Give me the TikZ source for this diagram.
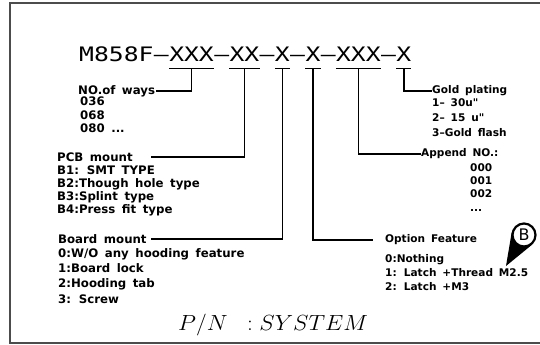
\documentclass[tikz,border=0pt]{standalone}
\usepackage{fontspec}
\usepackage{tikz}
\usetikzlibrary{positioning,backgrounds}
\newfontfamily\pnfont[FakeStretch=1.24]{DejaVu Sans Mono}
\newfontfamily\lblfont[WordSpace=1.6]{DejaVu Sans}
\newcommand\fsz{11}

\begin{document}
\begin{tikzpicture}[x=1bp,y=-1bp,
  seg/.style={font=\pnfont\fontsize{20}{24}\selectfont,inner sep=0pt},
  head/.style={font=\lblfont\bfseries\fontsize{\fsz}{13}\selectfont,inner sep=0pt,anchor=west},
  itm/.style={font=\lblfont\bfseries\fontsize{\fsz}{#1}\selectfont,inner sep=0pt,anchor=north west,align=left},
  itm/.default=13.2,
  link/.style={line width=1.5bp},
  bar/.style={line width=1.8bp}]
  \useasboundingbox (0,0) rectangle (540,344);
  % 外框
  \draw[line width=1.5bp,black!70] (540,3) -- (10,3) -- (10,343) -- (540,343);
  % 料号
  \node[seg,anchor=base west] (pn) at (79,61) {M858F};
  \foreach \nm/\txt [remember=\nm as \prev (initially pn)] in
     {d1/—,xways/XXX,d2/—,xpcb/XX,d3/—,xboard/X,d4/—,xopt/X,d5/—,xapp/XXX,d6/—,xgold/X}
     \node[seg,base right=0pt of \prev] (\nm) {\txt};
  \foreach \g in {xways,xpcb,xboard,xopt,xapp,xgold}
     \draw[bar] ([yshift=-7.5bp]\g.base west) -- ([yshift=-7.5bp]\g.base east);
  % 左侧说明
  \begin{scope}[execute at begin scope={\renewcommand\fsz{11.8}}]
  \node[head] (ways) at (78,91) {NO.of ways};
  \node[itm] (waysl) at (80,97) {036\\068\\080 ...};
  \node[head] (pcb) at (57,157) {PCB mount};
  \node[itm=13] (pcbl) at (57,165.5) {B1: SMT TYPE\\B2:Though hole type\\B3:Splint type\\B4:Press fit type};
  \node[head] (board) at (58,239) {Board mount};
  \node[itm=15.2] (boardl) at (58,248.5) {0:W/O any hooding feature\\1:Board lock\\2:Hooding tab\\3: Screw};
  \end{scope}
  % 右侧说明
  \begin{scope}[execute at begin scope={\renewcommand\fsz{10.6}}]
  \node[head] (gold) at (432,91) {Gold plating};
  \node[itm=14.8] (goldl) at (432,98.5) {1– 30u"\\2– 15 u"\\3–Gold flash};
  \node[head] (app) at (421,154) {Append NO.:};
  \node[itm=13.5] (appl) at (470,163) {000\\001\\002\\...};
  \node[head] (opt) at (385,240) {Option Feature};
  \node[itm=14] (optl) at (385,254.5) {0:Nothing\\1: Latch +Thread M2.5\\2: Latch +M3};
  \end{scope}
  % 引线
  \draw[link] ([yshift=-7.5bp]xways.base) |- ([xshift=1bp]ways.east);
  \draw[link] ([yshift=-7.5bp]xpcb.base) |- ([xshift=18bp]pcb.east);
  \draw[link] ([yshift=-7.5bp]xboard.base) |- ([xshift=4bp]board.east);
  \draw[link] ([yshift=-7.5bp]xopt.base) |- ([xshift=-12bp]opt.west);
  \draw[link] ([yshift=-7.5bp]xapp.base) |- (app.west);
  \draw[link] ([yshift=-7.5bp]xgold.base) |- (gold.west);
  % 标记 B
  \node[circle,draw,fill=white,line width=2.2bp,minimum size=23bp,inner sep=0pt,
        font=\lblfont\fontsize{16}{18}\selectfont] (mk) at (524,235) {B};
  \coordinate (tip) at (506,266);
  \begin{scope}[on background layer]
    \fill (tip) -- (mk.168) -- (mk.310) -- cycle;
  \end{scope}
  % 标题
  \node[anchor=base west,inner sep=0pt,font=\fontsize{20.74}{24}\selectfont] (sys)
     at (178,330) {\scalebox{1.13}[1.06]{$P/N\;\;:SYSTEM$}};
\end{tikzpicture}
\end{document}
